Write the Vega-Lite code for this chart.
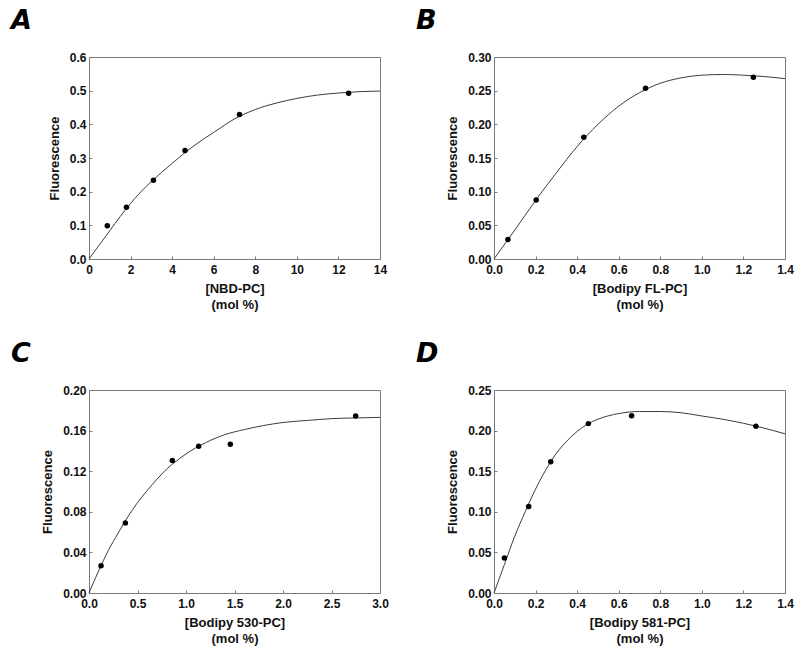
{
  "$schema": "https://vega.github.io/schema/vega-lite/v6.json",
  "background": "white",
  "padding": {"left": 10, "top": 6, "right": 5, "bottom": 5},
  "datasets": {
    "a_obs": [{"x": 0.88, "y": 0.099}, {"x": 1.8, "y": 0.154}, {"x": 3.1, "y": 0.234}, {"x": 4.62, "y": 0.322}, {"x": 7.24, "y": 0.429}, {"x": 12.49, "y": 0.492}],
    "a_fit": [{"x": 0, "y": 0}, {"x": 0.5, "y": 0.042}, {"x": 1, "y": 0.084}, {"x": 1.5, "y": 0.126}, {"x": 2, "y": 0.165}, {"x": 2.5, "y": 0.2}, {"x": 3, "y": 0.23}, {"x": 3.5, "y": 0.258}, {"x": 4, "y": 0.284}, {"x": 4.5, "y": 0.31}, {"x": 5, "y": 0.334}, {"x": 5.5, "y": 0.356}, {"x": 6, "y": 0.376}, {"x": 7, "y": 0.416}, {"x": 8, "y": 0.444}, {"x": 9, "y": 0.463}, {"x": 10, "y": 0.477}, {"x": 11, "y": 0.487}, {"x": 12, "y": 0.493}, {"x": 13, "y": 0.497}, {"x": 14, "y": 0.499}],
    "b_obs": [{"x": 0.067, "y": 0.029}, {"x": 0.203, "y": 0.0875}, {"x": 0.432, "y": 0.181}, {"x": 0.729, "y": 0.2536}, {"x": 1.248, "y": 0.27}],
    "b_fit": [{"x": 0, "y": 0}, {"x": 0.1, "y": 0.043}, {"x": 0.2, "y": 0.087}, {"x": 0.3, "y": 0.128}, {"x": 0.4, "y": 0.167}, {"x": 0.5, "y": 0.2}, {"x": 0.6, "y": 0.227}, {"x": 0.7, "y": 0.247}, {"x": 0.8, "y": 0.261}, {"x": 0.9, "y": 0.269}, {"x": 1.0, "y": 0.273}, {"x": 1.1, "y": 0.274}, {"x": 1.2, "y": 0.273}, {"x": 1.3, "y": 0.271}, {"x": 1.4, "y": 0.268}],
    "c_obs": [{"x": 0.124, "y": 0.0269}, {"x": 0.375, "y": 0.0689}, {"x": 0.859, "y": 0.1305}, {"x": 1.131, "y": 0.1446}, {"x": 1.457, "y": 0.1466}, {"x": 2.749, "y": 0.1744}],
    "c_fit": [{"x": 0, "y": 0}, {"x": 0.1, "y": 0.022}, {"x": 0.2, "y": 0.042}, {"x": 0.3, "y": 0.059}, {"x": 0.4, "y": 0.075}, {"x": 0.5, "y": 0.089}, {"x": 0.6, "y": 0.101}, {"x": 0.7, "y": 0.112}, {"x": 0.8, "y": 0.122}, {"x": 0.9, "y": 0.13}, {"x": 1.0, "y": 0.137}, {"x": 1.2, "y": 0.148}, {"x": 1.4, "y": 0.156}, {"x": 1.6, "y": 0.161}, {"x": 1.8, "y": 0.165}, {"x": 2.0, "y": 0.168}, {"x": 2.25, "y": 0.17}, {"x": 2.5, "y": 0.1718}, {"x": 2.75, "y": 0.1725}, {"x": 3.0, "y": 0.173}],
    "d_obs": [{"x": 0.05, "y": 0.043}, {"x": 0.167, "y": 0.1066}, {"x": 0.273, "y": 0.1615}, {"x": 0.454, "y": 0.2086}, {"x": 0.662, "y": 0.2184}, {"x": 1.26, "y": 0.2053}],
    "d_fit": [{"x": 0, "y": 0}, {"x": 0.05, "y": 0.035}, {"x": 0.1, "y": 0.07}, {"x": 0.15, "y": 0.1}, {"x": 0.2, "y": 0.128}, {"x": 0.25, "y": 0.152}, {"x": 0.3, "y": 0.172}, {"x": 0.35, "y": 0.187}, {"x": 0.4, "y": 0.199}, {"x": 0.45, "y": 0.208}, {"x": 0.5, "y": 0.214}, {"x": 0.6, "y": 0.221}, {"x": 0.7, "y": 0.2235}, {"x": 0.8, "y": 0.2235}, {"x": 0.9, "y": 0.222}, {"x": 1.0, "y": 0.218}, {"x": 1.1, "y": 0.214}, {"x": 1.2, "y": 0.209}, {"x": 1.3, "y": 0.203}, {"x": 1.4, "y": 0.196}]
  },
  "columns": 2,
  "spacing": {"row": 27, "column": 26},
  "concat": [
    {
      "width": 291, "height": 202,
      "title": {"text": "A"},
      "encoding": {
        "x": {"field": "x", "type": "quantitative", "scale": {"domain": [0, 14]}, "axis": {"values": [0, 2, 4, 6, 8, 10, 12, 14], "format": "d", "title": ["[NBD-PC]", "(mol %)"]}},
        "y": {"field": "y", "type": "quantitative", "scale": {"domain": [0, 0.6]}, "axis": {"values": [0, 0.1, 0.2, 0.3, 0.4, 0.5, 0.6], "format": ".1f", "title": "Fluorescence"}}
      },
      "layer": [
        {"data": {"name": "a_fit"}, "mark": {"type": "line", "interpolate": "monotone"}},
        {"data": {"name": "a_obs"}, "mark": {"type": "point"}}
      ]
    },
    {
      "width": 291, "height": 202,
      "title": {"text": "B"},
      "encoding": {
        "x": {"field": "x", "type": "quantitative", "scale": {"domain": [0, 1.4]}, "axis": {"values": [0, 0.2, 0.4, 0.6, 0.8, 1.0, 1.2, 1.4], "format": ".1f", "title": ["[Bodipy FL-PC]", "(mol %)"]}},
        "y": {"field": "y", "type": "quantitative", "scale": {"domain": [0, 0.3]}, "axis": {"values": [0, 0.05, 0.1, 0.15, 0.2, 0.25, 0.3], "format": ".2f", "title": "Fluorescence"}}
      },
      "layer": [
        {"data": {"name": "b_fit"}, "mark": {"type": "line", "interpolate": "monotone"}},
        {"data": {"name": "b_obs"}, "mark": {"type": "point"}}
      ]
    },
    {
      "width": 291, "height": 203,
      "title": {"text": "C"},
      "encoding": {
        "x": {"field": "x", "type": "quantitative", "scale": {"domain": [0, 3]}, "axis": {"values": [0, 0.5, 1.0, 1.5, 2.0, 2.5, 3.0], "format": ".1f", "title": ["[Bodipy 530-PC]", "(mol %)"]}},
        "y": {"field": "y", "type": "quantitative", "scale": {"domain": [0, 0.2]}, "axis": {"values": [0, 0.04, 0.08, 0.12, 0.16, 0.2], "format": ".2f", "title": "Fluorescence"}}
      },
      "layer": [
        {"data": {"name": "c_fit"}, "mark": {"type": "line", "interpolate": "monotone"}},
        {"data": {"name": "c_obs"}, "mark": {"type": "point"}}
      ]
    },
    {
      "width": 291, "height": 203,
      "title": {"text": "D"},
      "encoding": {
        "x": {"field": "x", "type": "quantitative", "scale": {"domain": [0, 1.4]}, "axis": {"values": [0, 0.2, 0.4, 0.6, 0.8, 1.0, 1.2, 1.4], "format": ".1f", "title": ["[Bodipy 581-PC]", "(mol %)"]}},
        "y": {"field": "y", "type": "quantitative", "scale": {"domain": [0, 0.25]}, "axis": {"values": [0, 0.05, 0.1, 0.15, 0.2, 0.25], "format": ".2f", "title": "Fluorescence"}}
      },
      "layer": [
        {"data": {"name": "d_fit"}, "mark": {"type": "line", "interpolate": "monotone"}},
        {"data": {"name": "d_obs"}, "mark": {"type": "point"}}
      ]
    }
  ],
  "config": {
    "font": "Liberation Sans",
    "view": {"stroke": "#7a7a7a", "strokeWidth": 1},
    "line": {"color": "#3c3c3c", "strokeWidth": 1},
    "point": {"filled": true, "color": "black", "size": 30, "opacity": 1},
    "axis": {
      "grid": false,
      "domainColor": "#7a7a7a",
      "tickColor": "#7a7a7a",
      "tickSize": -3,
      "labelPadding": 6,
      "labelFont": "Liberation Sans",
      "labelFontWeight": "bold",
      "labelFontSize": 12,
      "labelColor": "#111",
      "labelFlush": false,
      "labelOverlap": false,
      "titleFont": "Liberation Sans",
      "titleFontWeight": "bold",
      "titleFontSize": 13,
      "titleColor": "#111",
      "titlePadding": 8,
      "titleLineHeight": 16
    },
    "axisX": {"labelPadding": 8, "titlePadding": 7},
    "title": {
      "anchor": "start",
      "frame": "group",
      "font": "DejaVu Sans",
      "fontSize": 27,
      "fontStyle": "italic",
      "fontWeight": "bold",
      "color": "black",
      "dx": -78,
      "offset": 16
    }
  }
}
